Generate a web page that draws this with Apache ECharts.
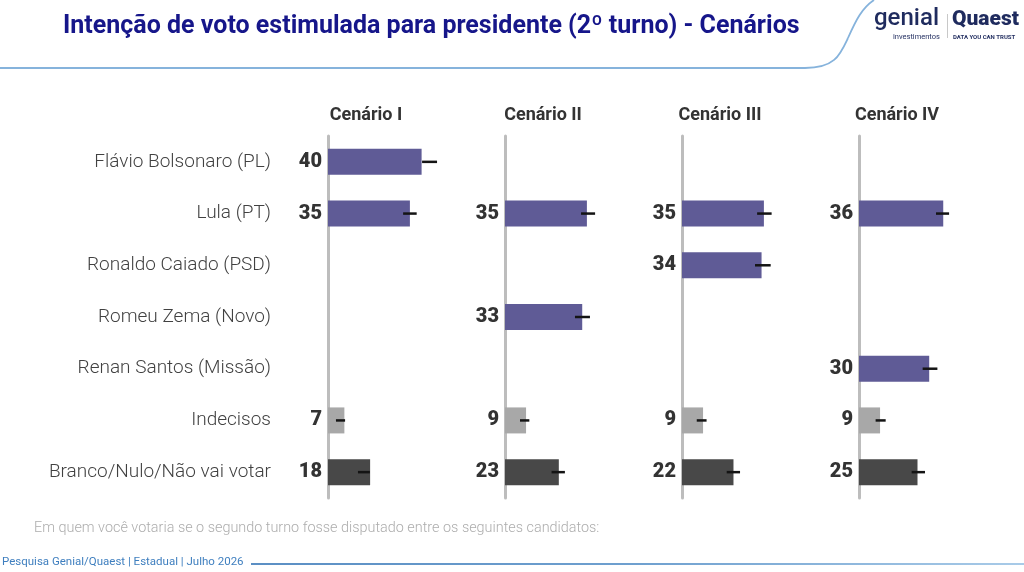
<!DOCTYPE html>
<html>
<head>
<meta charset="utf-8">
<script src="https://cdn.jsdelivr.net/npm/echarts@6/dist/echarts.min.js"></script>
<style>
html,body{margin:0;padding:0;background:#fff;}
#chart{width:1024px;height:572px;}
</style>
</head>
<body>
<div id="chart"></div>
<script>
const categories = ["Flávio Bolsonaro (PL)", "Lula (PT)", "Ronaldo Caiado (PSD)", "Romeu Zema (Novo)", "Renan Santos (Missão)", "Indecisos", "Branco/Nulo/Não vai votar"];
const scenarios = ["Cenário I", "Cenário II", "Cenário III", "Cenário IV"];
const cenario1 = [40, 35, null, null, null, 7, 18];
const cenario2 = [null, 35, null, 33, null, 9, 23];
const cenario3 = [null, 35, 34, null, null, 9, 22];
const cenario4 = [null, 36, null, null, 30, 9, 25];
// error markers [low, high]
const err1 = [[40.2, 46.6], [32.1, 37.9], null, null, null, [3.4, 7.3], [12.8, 17.9]];
const err2 = [null, [32.5, 38.5], null, [29.9, 36.3], null, [6.4, 10.4], [19.9, 25.6]];
const err3 = [null, [32.1, 38.3], [31.2, 37.9], null, null, [6.3, 10.5], [19.1, 24.8]];
const err4 = [null, [32.9, 38.5], null, null, [27.2, 33.5], [7.1, 11.4], [22.5, 28.2]];

const values = [cenario1, cenario2, cenario3, cenario4];
const errs = [err1, err2, err3, err4];
const catColors = ["#5f5b96", "#5f5b96", "#5f5b96", "#5f5b96", "#5f5b96", "#a8a8a8", "#484848"];

const gridLefts = [328, 505, 682, 859];
const grids = [], xAxes = [], yAxes = [], series = [], titles = [];

gridLefts.forEach((l, i) => {
  grids.push({left: l, top: 136, width: 117, height: 362});
  xAxes.push({type: 'value', gridIndex: i, min: 0, max: 50, show: false});
  yAxes.push({
    type: 'category', gridIndex: i, data: categories, inverse: true,
    axisLine: {show: true, lineStyle: {color: '#bdbdbd', width: 3}},
    axisTick: {show: false},
    axisLabel: {show: i === 0, margin: 57, color: '#414141', fontSize: 19, fontFamily: 'Roboto', fontWeight: 300}
  });
  series.push({
    type: 'bar', xAxisIndex: i, yAxisIndex: i, barWidth: 26,
    data: values[i].map((v, k) => ({value: v, itemStyle: {color: catColors[k]}})),
    label: {show: true, position: 'left', distance: 6, color: '#333', fontSize: 20, fontWeight: 900, fontFamily: 'Roboto'},
    silent: true
  });
  const ed = [];
  errs[i].forEach((e, k) => { if (e) ed.push([e[0], e[1], k]); });
  series.push({
    type: 'custom', xAxisIndex: i, yAxisIndex: i,
    data: ed,
    renderItem: function (params, api) {
      const p1 = api.coord([api.value(0), api.value(2)]);
      const p2 = api.coord([api.value(1), api.value(2)]);
      return {type: 'line', shape: {x1: p1[0], y1: p1[1], x2: p2[0], y2: p2[1]}, style: {stroke: '#141414', lineWidth: 2.5}};
    },
    silent: true, z: 5
  });
  titles.push({text: scenarios[i], left: l + 33, top: 101, textAlign: 'center',
    textStyle: {fontFamily: 'Roboto', fontWeight: 'bold', fontSize: 18, color: '#333'}});
});

titles.push({text: 'Intenção de voto estimulada para presidente (2º turno) - Cenários', left: 58, top: 9,
  textStyle: {fontFamily: 'Roboto', fontWeight: 'bold', fontSize: 25, color: '#16168a'}});

const chart = echarts.init(document.getElementById('chart'));
chart.setOption({
  animation: false,
  title: titles,
  grid: grids,
  xAxis: xAxes,
  yAxis: yAxes,
  series: series,
  graphic: [
    {type: 'line', shape: {x1: 0, y1: 68, x2: 805, y2: 68}, style: {stroke: '#86b3dc', lineWidth: 1.8}},
    {type: 'bezierCurve', shape: {x1: 805, y1: 68, cpx1: 835, cpy1: 68, cpx2: 840, cpy2: 55, x2: 848, y2: 38}, style: {fill: null, stroke: '#86b3dc', lineWidth: 1.8}},
    {type: 'bezierCurve', shape: {x1: 848, y1: 38, cpx1: 856, cpy1: 20, cpx2: 862, cpy2: 8, x2: 874, y2: 0}, style: {fill: null, stroke: '#86b3dc', lineWidth: 1.8}},
    {type: 'text', left: 874, top: 7, style: {text: 'genial', fontFamily: 'Roboto', fontWeight: 500, fontSize: 24, fill: '#1f2b5e'}},
    {type: 'text', left: 893, top: 33, style: {text: 'investimentos', fontFamily: 'Roboto', fontSize: 7.5, fill: '#1f2b5e'}},
    {type: 'rect', shape: {x: 947, y: 14, width: 1, height: 24}, style: {fill: '#c8c8c8'}},
    {type: 'text', left: 952, top: 9, style: {text: 'Quaest', fontFamily: 'Roboto', fontWeight: 900, fontSize: 21, fill: '#1f2b5e'}},
    {type: 'text', left: 953, top: 34, style: {text: 'DATA YOU CAN TRUST', fontFamily: 'Roboto', fontWeight: 'bold', fontSize: 6, fill: '#1f2b5e'}},
    {type: 'text', left: 34, top: 521, style: {text: 'Em quem você votaria se o segundo turno fosse disputado entre os seguintes candidatos:', fontFamily: 'Roboto', fontWeight: 300, fontSize: 14.4, fill: '#adadad'}},
    {type: 'text', left: 2, top: 556, style: {text: 'Pesquisa Genial/Quaest | Estadual | Julho 2026', fontFamily: 'Roboto', fontSize: 11.5, fill: '#3f7fbf'}},
    {type: 'rect', shape: {x: 251, y: 563, width: 773, height: 2},
      style: {fill: {type: 'linear', x: 0, y: 0, x2: 1, y2: 0, colorStops: [{offset: 0, color: '#5b8fc4'}, {offset: 0.5, color: '#6fa0cf'}, {offset: 1, color: '#a9cbe8'}]}}}
  ]
});
</script>
</body>
</html>
